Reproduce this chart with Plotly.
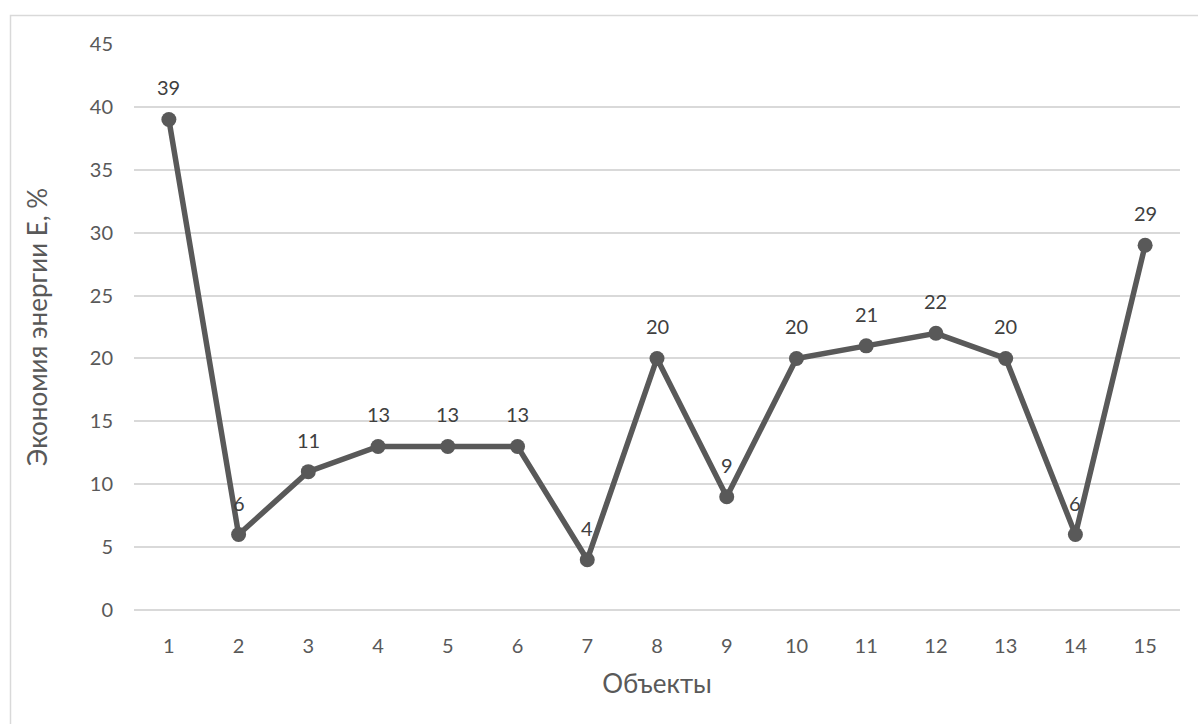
import plotly.graph_objects as go

objects = list(range(1, 16))
savings = [39, 6, 11, 13, 13, 13, 4, 20, 9, 20, 21, 22, 20, 6, 29]
y_ticks = [0, 5, 10, 15, 20, 25, 30, 35, 40, 45]

W, H = 1198, 724
L, R, T, B = 134, 18, 44, 114
pw, ph = W - L - R, H - T - B

line_color = "#595959"
grid_color = "#d9d9d9"
text_color = "#595959"
font_family = "Lato, 'Open Sans', sans-serif"

fig = go.Figure()
fig.add_trace(go.Scatter(
    x=objects, y=savings, mode="lines+markers",
    line=dict(color=line_color, width=5.5),
    marker=dict(color=line_color, size=15),
    hoverinfo="x+y", showlegend=False,
))

# value labels above each point
for xv, yv in zip(objects, savings):
    fig.add_annotation(x=xv, y=yv, text=str(yv), showarrow=False,
                       yshift=32, font=dict(size=20, color="#404040", family=font_family))

# outer chart frame
def px_to_paper_x(px):
    return (px - L) / pw

def px_to_paper_y(py):
    return (H - B - py) / ph

fig.add_shape(type="rect", xref="paper", yref="paper",
              x0=px_to_paper_x(10.5), x1=px_to_paper_x(W + 20),
              y0=px_to_paper_y(H + 20), y1=px_to_paper_y(15.5),
              line=dict(color=grid_color, width=1.5), fillcolor="rgba(0,0,0,0)", layer="below")

fig.update_layout(
    width=W, height=H,
    margin=dict(l=L, r=R, t=T, b=B),
    paper_bgcolor="white", plot_bgcolor="white",
    font=dict(family=font_family, color=text_color, size=20),
    xaxis=dict(
        range=[0.5, 15.5], tickvals=objects, ticktext=[str(v) for v in objects],
        showgrid=False, zeroline=False, showline=False,
        ticks="", ticklabelstandoff=22, tickfont=dict(size=20, color=text_color),
        title=dict(text="Объекты", font=dict(size=26, color=text_color), standoff=18),
    ),
    yaxis=dict(
        range=[0, 45], tickvals=y_ticks,
        showgrid=True, gridcolor=grid_color, gridwidth=1.5,
        zeroline=True, zerolinecolor=grid_color, zerolinewidth=1.5,
        showline=False, ticks="", ticklabelstandoff=20,
        tickfont=dict(size=20, color=text_color),
        title=dict(text="Экономия энергии Е, %", font=dict(size=26, color=text_color), standoff=34),
    ),
)

fig.write_html("out.html")
